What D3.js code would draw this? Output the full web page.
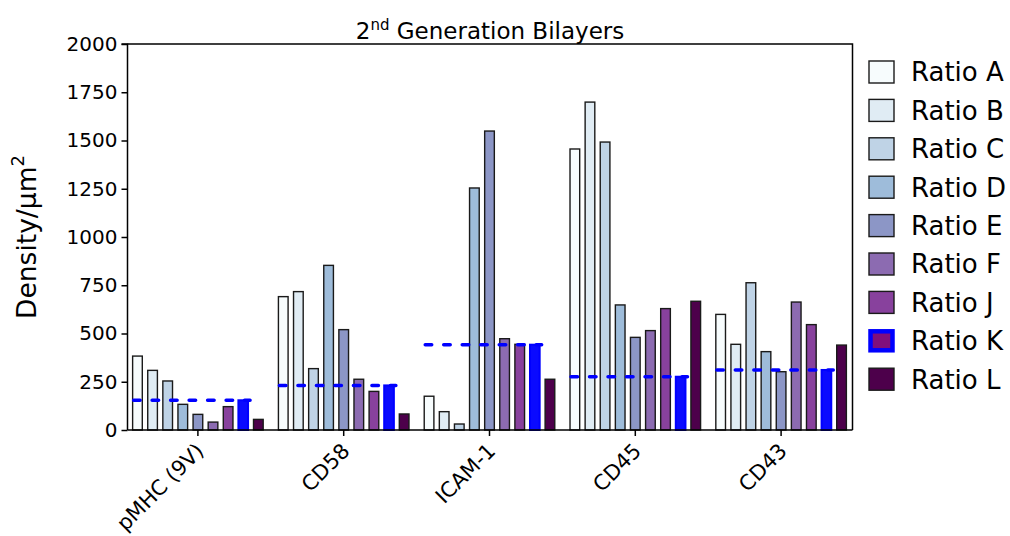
<!DOCTYPE html>
<html>
<head>
<meta charset="utf-8">
<script src="https://cdn.jsdelivr.net/npm/d3@7"></script>
<style>
  html, body { margin: 0; padding: 0; background: #fff; }
  svg { display: block; font-family: "DejaVu Sans", Verdana, sans-serif; }
</style>
</head>
<body>
<svg id="chart" width="1010" height="536"></svg>
<script>
// Surface densities measured on 2nd generation bilayers
const categories = ["pMHC (9V)", "CD58", "ICAM-1", "CD45", "CD43"];
const seriesNames = ["Ratio A", "Ratio B", "Ratio C", "Ratio D", "Ratio E", "Ratio F", "Ratio J", "Ratio K", "Ratio L"];

const ratioA = [383, 691, 175, 1456, 599];
const ratioB = [309, 717, 95, 1699, 444];
const ratioC = [254, 318, 31, 1492, 763];
const ratioD = [133, 853, 1254, 648, 406];
const ratioE = [81, 520, 1549, 480, 302];
const ratioF = [41, 263, 473, 515, 663];
const ratioJ = [121, 200, 444, 629, 546];
const ratioK = [154, 231, 442, 276, 311];
const ratioL = [55, 83, 263, 667, 440];

const yTicks = [0, 250, 500, 750, 1000, 1250, 1500, 1750, 2000];

const seriesValues = [ratioA, ratioB, ratioC, ratioD, ratioE, ratioF, ratioJ, ratioK, ratioL];
const highlighted = "Ratio K";

const svg = d3.select("#chart");
const plot = { left: 127.5, right: 852.5, top: 44, bottom: 430 };

const colors = d3.scaleOrdinal(seriesNames, d3.schemeBuPu[9]);

const x0 = d3.scaleBand(categories, [125, 854]);
const groupWidth = 136;
const x1 = d3.scaleBand(seriesNames, [0, groupWidth]).paddingInner(0.36).paddingOuter(0.18);
const groupOffset = (x0.bandwidth() - groupWidth) / 2;
const y = d3.scaleLinear([0, 2000], [plot.bottom, plot.top]);

// flat records for the bars
const records = [];
seriesNames.forEach((s, si) => {
  categories.forEach((c, ci) => records.push({ series: s, category: c, value: seriesValues[si][ci] }));
});

// frame (top and right edges)
svg.append("path")
  .attr("d", `M${plot.left},${plot.top}H${plot.right}V${plot.bottom}`)
  .attr("fill", "none").attr("stroke", "#000").attr("stroke-width", 1.5);

// bars
svg.append("g").selectAll("rect")
  .data(records)
  .join("rect")
  .attr("x", d => x0(d.category) + groupOffset + x1(d.series))
  .attr("width", x1.bandwidth())
  .attr("y", d => y(d.value))
  .attr("height", d => y(0) - y(d.value))
  .attr("fill", d => d.series === highlighted ? "#0a0aff" : colors(d.series))
  .attr("stroke", d => d.series === highlighted ? "#0000ff" : "#1a1a1a")
  .attr("stroke-width", d => d.series === highlighted ? 2 : 1.4);

// dashed reference at the Ratio K level across each group
svg.append("g").selectAll("line")
  .data(categories.map((c, i) => ({ category: c, value: ratioK[i] })))
  .join("line")
  .attr("x1", d => x0(d.category) + groupOffset + x1(seriesNames[0]) + 1)
  .attr("x2", d => x0(d.category) + groupOffset + x1(highlighted) + x1.bandwidth() + 2)
  .attr("y1", d => y(d.value))
  .attr("y2", d => y(d.value))
  .attr("stroke", "#0000ff")
  .attr("stroke-width", 3.5)
  .attr("stroke-linecap", "round")
  .attr("stroke-dasharray", "6.5,12");

// y axis
const yAxis = svg.append("g")
  .attr("transform", `translate(${plot.left},0)`)
  .call(d3.axisLeft(y).tickValues(yTicks).tickSize(6).tickPadding(4).tickFormat(d3.format("d")));
yAxis.select(".domain").attr("stroke-width", 1.5).attr("d", `M-6,${plot.top}H0V${plot.bottom}`);
yAxis.selectAll(".tick line").attr("stroke-width", 1.5);
yAxis.selectAll("text").attr("font-size", 20).attr("fill", "#000")
  .attr("font-family", "DejaVu Sans, Verdana, sans-serif");

// x axis
const xAxis = svg.append("g")
  .attr("transform", `translate(0,${plot.bottom})`)
  .call(d3.axisBottom(x0).tickSize(6).tickSizeOuter(0));
xAxis.select(".domain").attr("stroke-width", 1.5).attr("d", `M${plot.left},0H${plot.right}`);
xAxis.selectAll(".tick line").attr("stroke-width", 1.5);
xAxis.selectAll("text")
  .attr("font-size", 21)
  .attr("fill", "#000")
  .attr("font-family", "DejaVu Sans, Verdana, sans-serif")
  .attr("text-anchor", "end")
  .attr("dy", "0.35em")
  .attr("transform", "translate(2,17) rotate(-45)")
  .attr("x", 0).attr("y", 0);

// title
const title = svg.append("text")
  .attr("x", (plot.left + plot.right) / 2)
  .attr("y", 39)
  .attr("text-anchor", "middle")
  .attr("font-size", 23);
title.append("tspan").text("2");
title.append("tspan").attr("font-size", 15).attr("dy", -9).text("nd");
title.append("tspan").attr("dy", 9).text(" Generation Bilayers");

// y axis label
const yLabel = svg.append("text")
  .attr("transform", `translate(36,${(plot.top + plot.bottom) / 2}) rotate(-90)`)
  .attr("text-anchor", "middle")
  .attr("font-size", 26.5);
yLabel.append("tspan").text("Density/\u03bcm");
yLabel.append("tspan").attr("font-size", 18).attr("dy", -12).text("2");

// legend
const legend = svg.append("g").attr("transform", "translate(869,72)");
const rows = legend.selectAll("g")
  .data(seriesNames)
  .join("g")
  .attr("transform", (d, i) => `translate(0,${i * 38.4})`);
rows.append("rect")
  .attr("x", d => d === highlighted ? 1.5 : 0)
  .attr("y", d => d === highlighted ? -9.5 : -11)
  .attr("width", d => d === highlighted ? 22 : 25)
  .attr("height", d => d === highlighted ? 19 : 22)
  .attr("fill", d => d === highlighted ? d3.schemeBuPu[9][7] : colors(d))
  .attr("stroke", d => d === highlighted ? "#0000ff" : "#1a1a1a")
  .attr("stroke-width", d => d === highlighted ? 4.5 : 1.4);
rows.append("text")
  .attr("x", 42)
  .attr("y", 0)
  .attr("dy", "0.36em")
  .attr("font-size", 26)
  .text(d => d);
</script>
</body>
</html>
